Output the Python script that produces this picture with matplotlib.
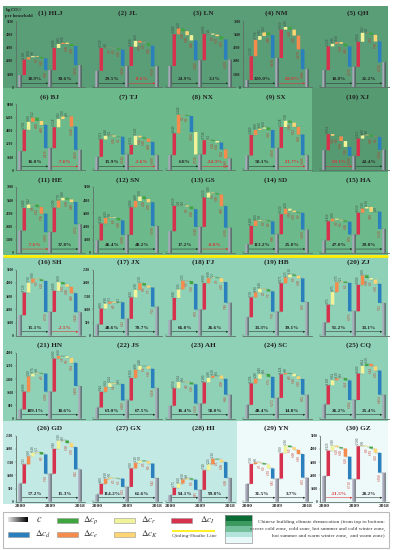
import numpy as np
import matplotlib
matplotlib.use('Agg')
import matplotlib.pyplot as plt
from matplotlib.patches import Rectangle

plt.rcParams['font.family'] = ['Liberation Serif', 'DejaVu Serif']
plt.rcParams['mathtext.fontset'] = 'stix'

names = ['HLJ', 'JL', 'LN', 'NM', 'QH', 'BJ', 'TJ', 'NX', 'SX', 'XJ',
         'HE', 'SN', 'GS', 'SD', 'HA', 'SH', 'JX', 'FJ', 'HB', 'ZJ',
         'HN', 'JS', 'AH', 'SC', 'CQ', 'GD', 'GX', 'HI', 'YN', 'GZ']

# one y step per panel, all values below are in multiples of it
tick_step = [1000, 1000, 1000, 1400, 1400,
             1600, 1600, 1600, 1600, 1600,
             1400, 1000, 1000, 1000, 1000,
             1000, 500, 500, 500, 500,
             800, 800, 800, 800, 800,
             500, 500, 500, 500, 1000]
axis_panels = [0, 3, 5, 10, 11, 15, 16, 20, 25, 29]

c_2000 = [0.92, 1.25, 1.62, 0.55, 1.30, 1.45, 1.02, 1.15, 1.12, 1.52,
          1.70, 0.95, 1.65, 0.65, 0.95, 1.55, 0.85, 1.18, 1.40, 1.00,
          0.70, 0.85, 0.98, 1.05, 1.08, 1.38, 0.55, 0.50, 1.35, 1.95]
c_2009 = [1.30, 1.62, 2.05, 2.22, 1.55, 1.68, 1.20, 1.20, 1.70, 1.08,
          1.58, 1.38, 1.98, 1.42, 1.40, 1.80, 1.28, 1.98, 1.82, 1.85,
          2.05, 1.38, 1.15, 1.58, 1.42, 2.12, 1.12, 0.90, 1.75, 1.70]
c_2018 = [1.68, 1.60, 2.10, 1.38, 1.90, 1.55, 1.15, 0.90, 1.15, 1.55,
          2.18, 2.05, 1.92, 1.78, 1.82, 1.78, 2.20, 2.50, 2.55, 2.48,
          2.48, 2.32, 1.82, 1.82, 1.82, 2.45, 1.80, 1.80, 1.82, 2.20]

# bar order per period, the last bar closes on the next c value
order_a = ['Ierkpd', 'Iekrpd', 'Iepkrd', 'Ierkpd', 'Irekpd',
           'Irepkd', 'Irekpd', 'Iekpdr', 'Iekrpd', 'Ikperd',
           'Irkped', 'Iekrpd', 'Ierkpd', 'Ierkpd', 'Ierkpd',
           'Irekpd', 'Irekpd', 'Irekpd', 'Ierkpd', 'Irekpd',
           'Ierkpd', 'Ierkpd', 'Irekpd', 'Ierkpd', 'Irekpd',
           'Ierkpd', 'Iekrpd', 'Irekpd', 'Iekprd', 'Irkped']
order_b = ['Irekpd', 'Irekpd', 'Ierkpd', 'Irpked', 'Irepkd',
           'Irkped', 'Irkped', 'Ikprde', 'Irpked', 'Irkped',
           'Ierpkd', 'Ierpkd', 'Irkped', 'Ierkpd', 'Ierkpd',
           'Irpked', 'Irepkd', 'Ierpkd', 'Ierpkd', 'Ieprkd',
           'Ieprkd', 'Ierpkd', 'Irepkd', 'Ieprkd', 'Irpekd',
           'Irepkd', 'Ierpkd', 'Irepkd', 'Irpked', 'Ikrpkd']

delta_a = [[1.18, .18, .08, -.05, -.12], [1.72, .02, -.01, -.01, -.12],
           [2.40, .45, -.22, -.30, -.40], [1.80, 1.25, .28, .28, -.20],
           [1.80, .20, .12, -.12, -.20], [1.62, .60, .32, -.25, -.30],
           [1.32, .28, .02, -.08, -.02], [1.65, 1.40, -.02, -.06, -1.22],
           [1.55, .38, .10, .10, -.20], [1.22, -.12, -.05, -.35, -.45],
           [1.70, .28, -.02, -.18, -.50], [1.28, .42, .05, -.05, -.18],
           [1.92, .02, .01, -.08, -.20], [1.40, .40, .05, -.02, -.08],
           [1.45, .20, -.08, -.05, -.10], [1.72, .75, .30, -.05, -.12],
           [1.20, .38, .15, -.08, .03], [1.68, .65, .65, -.02, -.22],
           [1.50, .38, .28, -.05, -.15], [1.35, .95, .75, .05, -.10],
           [1.35, 1.15, .22, .05, -.05], [1.18, .38, .28, -.08, .02],
           [1.32, .48, .02, -.05, -.15], [1.62, .35, .35, .02, -.22],
           [1.45, .38, .15, .02, -.18], [1.45, .60, .28, .05, -.18],
           [.80, .38, .10, -.05, -.03], [.55, .32, .32, .08, -.10],
           [1.50, .12, -.05, -.10, -.30], [1.92, .38, -.12, -.10, -.62]]
delta_b = [[1.68, .30, .10, -.10, -.15], [1.45, .45, -.15, -.02, -.20],
           [2.00, .02, -.08, -.12, -.25], [2.15, .20, -.20, -.45, -1.05],
           [1.90, .68, .02, -.18, -.50], [1.58, .62, .20, .01, -.78],
           [.72, .70, -.12, -.10, -.25], [1.08, .02, -.08, -.12, -.52],
           [1.58, .48, -.15, -.32, -.58], [1.32, .25, .05, -.15, -.02],
           [1.85, .55, .20, -.12, -.20], [2.08, .48, .35, -.20, -.25],
           [2.22, .38, -.05, -.10, -.88], [1.52, .42, -.15, -.12, -.05],
           [1.65, .32, .12, -.38, .02], [1.60, .65, -.15, -.20, -.48],
           [1.62, .58, .50, -.18, -.15], [2.00, .38, .05, -.05, -.30],
           [2.15, .45, .22, -.10, -.20], [2.00, .72, -.20, -.12, -.32],
           [2.50, .20, -.02, -.12, -.38], [1.70, .62, .30, -.02, -.20],
           [1.60, .35, .15, .02, -.25], [1.78, .10, -.05, -.20, -.20],
           [2.00, .58, .15, -.18, -.32], [1.88, .62, .02, -.20, -.30],
           [1.40, .42, .18, -.05, -.18], [1.48, .45, .42, -.05, -.20],
           [1.92, .58, -.12, -.20, -.32], [2.50, .05, -.08, -.15, -.32]]

pct_a = [38.9, 29.5, 24.9, 320.0, 18.8, 16.0, 15.9, 6.8, 50.1, -30.1,
         -7.6, 46.4, 17.2, 113.2, 47.0, 15.1, 48.6, 66.0, 33.3, 91.2,
         189.1, 63.0, 16.4, 48.4, 26.2, 57.2, 114.2, 94.1, 31.5, -11.5]
pct_b = [30.6, -0.6, 3.1, -38.9, 21.2, -7.6, -2.6, -24.3, -31.7, 42.4,
         37.8, 48.2, -0.8, 25.0, 29.8, -2.5, 70.7, 26.6, 39.1, 33.1,
         18.6, 67.5, 58.0, 14.8, 25.4, 15.3, 61.6, 99.8, 3.7, 28.2]

years = ['2000', '2009', '2018']
legend_names = ['p', 'r', 'I', 'd', 'e', 'K']
zone_colors = ['#0a6b35', '#3c9960', '#74c09c', '#b3e3da', '#e9f8f8']

colors = {'I': '#d6324e', 'd': '#2a7fbd', 'e': '#f58b4c',
          'r': '#f1f39a', 'k': '#fdd573', 'p': '#3fa63f'}

W, H = 393, 550
fig = plt.figure(figsize=(W / 100, H / 100), dpi=100)


def px_axes(x0, y_top, w, h):
    return fig.add_axes([x0 / W, 1 - (y_top + h) / H, w / W, h / H])


# backgrounds and legend live on one full size axes in pixel coordinates
bg = px_axes(0, 0, W, H)
bg.set_xlim(0, W)
bg.set_ylim(H, 0)
bg.axis('off')
for x, y, w, h, col in [(3, 6, 385, 82, '#5a9e78'),
                        (3, 88, 385, 167, '#6cb98b'),
                        (312, 88, 76, 84, '#559a70'),
                        (3, 257, 385, 164, '#8fd1b7'),
                        (3, 421, 234, 83, '#c3e9e4'),
                        (237, 421, 151, 83, '#eef9fa')]:
    bg.add_patch(Rectangle((x, y), w, h, fc=col, ec='none'))
bg.plot([3, 388], [255.7, 255.7], color='#ffee00', lw=2, solid_capstyle='butt')

bg.text(5, 10, 'kgCO$_2$/', fontsize=3.4, fontweight='bold', va='center', color='#222222')
bg.text(5, 15.5, 'per household', fontsize=3.3, fontweight='bold', va='center', color='#222222')

# legend
bg.add_patch(Rectangle((3, 512), 386, 36, fc='white', ec='#bbbbbb', lw=0.8))
grad = np.linspace(0.9, 0, 64).reshape(1, -1)
bg.imshow(grad, cmap='gray', extent=(8, 28, 522.5, 517.5), aspect='auto', vmin=0, vmax=1, zorder=3)
bg.set_xlim(0, W)
bg.set_ylim(H, 0)
bg.text(36, 520, r'$c$', fontsize=7.5, va='center', color='#333333')
swatch_x = [57, 114, 171, 8, 57, 114]
swatch_y = [520, 520, 520, 534, 534, 534]
label_x = [83, 141, 200, 35, 83, 141]
for code, sx, sy, lx in zip(legend_names, swatch_x, swatch_y, label_x):
    key = 'k' if code == 'K' else code
    bg.add_patch(Rectangle((sx, sy - 2.5), 21, 5, fc=colors[key], ec='#999999', lw=0.4, zorder=3))
    bg.text(lx, sy, r'$\Delta c_{%s}$' % code, fontsize=6.5, va='center', color='#333333')
bg.plot([172, 215], [530.5, 530.5], color='#ffee00', lw=1.2, solid_capstyle='butt')
bg.text(172, 536.5, 'Qinling-Huaihe Line', fontsize=3.9, va='center', color='#444444')
for i, col in enumerate(zone_colors):
    bg.add_patch(Rectangle((225, 515 + i * 5.6), 27, 5.6, fc=col, ec='none', zorder=3))
bg.add_patch(Rectangle((225, 515), 27, 28, fc='none', ec='#999999', lw=0.5, zorder=4))
for y, txt in [(522, 'Chinese building climate demarcation (from top to bottom:'),
               (529, 'severe cold zone, cold zone, hot summer and cold winter zone,'),
               (535.5, 'hot summer and warm winter zone,  and warm zone)')]:
    bg.text(385, y, txt, fontsize=3.85, ha='right', va='center', color='#333333')

row_base = [87.3, 170.3, 253, 335.7, 418.7, 501.7]
title_y = [13.5, 97, 180, 262, 345, 428]
first_x = [20, 97, 170, 247, 324]
title_x = [50, 128, 203, 276, 358]
span = 60.0
slot = span / 14
top_h = 66.0

for i, name in enumerate(names):
    row = i // 5
    col = i % 5
    cx = first_x[col]
    step = tick_step[i]
    base = row_base[row]

    bg.text(title_x[col], title_y[row], '(%d) %s' % (i + 1, name), fontsize=5.2,
            fontweight='bold', ha='center', va='center', color='#222222')

    ax = px_axes(cx - 4.5, base - top_h, span + 9.5, top_h)
    ax.patch.set_alpha(0)
    ax.set_xlim(-4.5 / slot, 14 + 5 / slot)
    ax.set_ylim(0, 5 * step)
    for s in ['top', 'right']:
        ax.spines[s].set_visible(False)
    ax.spines['bottom'].set_color('#5f6f66')
    ax.spines['bottom'].set_linewidth(0.6)
    ax.set_xticks([])
    if i in axis_panels:
        ax.spines['left'].set_color('#5f6f66')
        ax.spines['left'].set_linewidth(0.6)
        ax.set_yticks([step * k for k in range(6)])
        ax.set_yticklabels([str(step * k) for k in range(6)], fontsize=2.6, fontweight='bold')
        ax.tick_params(axis='y', length=1, width=0.3, pad=0.5, color='#5f6f66', labelcolor='#222222')
    else:
        ax.spines['left'].set_visible(False)
        ax.set_yticks([])
        ax.text(-0.95, 0, '//', fontsize=3, ha='center', va='center', color='#555555', clip_on=False)

    levels = [c_2000[i], c_2009[i], c_2018[i]]
    for k, lv in enumerate(levels):
        xg = k * 7
        ax.bar(xg - 0.13, lv * step, 0.52, color='#a9a9bb', lw=0, zorder=3, snap=False)
        ax.bar(xg + 0.26, lv * step, 0.26, color='#50505a', lw=0, zorder=3, snap=False)
        if row == 5:
            ax.text(xg, -0.32 * step, years[k], fontsize=3.9, fontweight='bold',
                    ha='center', va='center', color='#222222', clip_on=False)

    for p, (order, deltas, pct) in enumerate([(order_a[i], delta_a[i], pct_a[i]),
                                              (order_b[i], delta_b[i], pct_b[i])]):
        start = levels[p]
        end = levels[p + 1]
        vals = list(deltas) + [end - (start + sum(deltas))]
        cur = start
        x0 = p * 7
        for j, (code, v) in enumerate(zip(order, vals)):
            xb = x0 + j + 1
            ax.plot([xb - 1, xb], [cur * step, cur * step], color='#6d7f74', lw=0.25, zorder=2)
            bottom = min(cur, cur + v) * step
            ax.bar(xb, abs(v) * step, 0.82, bottom=bottom, color=colors[code], lw=0, zorder=3, snap=False)
            if v >= 0:
                ax.text(xb, (cur + v + 0.06) * step, '%+d' % round(v * step), fontsize=2.3,
                        rotation=90, ha='center', va='bottom', color='#3c4a42', clip_on=False)
            else:
                ax.text(xb, (cur + v - 0.06) * step, '%+d' % round(v * step), fontsize=2.3,
                        rotation=90, ha='center', va='top', color='#c0392b', clip_on=False)
            cur += v
        ax.plot([x0 + 6, x0 + 7], [cur * step, cur * step], color='#6d7f74', lw=0.25, zorder=2)

        neg = pct < 0
        arrow_col = '#d8383a' if neg else '#2b3a33'
        ax.annotate('', xy=(x0 + 6.6, 0.3 * step), xytext=(x0 + 0.5, 0.3 * step),
                    arrowprops=dict(arrowstyle='-|>', color=arrow_col, lw=0.4, mutation_scale=2.5,
                                    shrinkA=0, shrinkB=0), zorder=4)
        ax.text(x0 + 3.5, 0.62 * step, '%.1f%%' % pct, fontsize=3.8, fontweight='bold',
                ha='center', va='center', color='#d8383a' if neg else '#222222')

plt.savefig('out.png', dpi=100)
